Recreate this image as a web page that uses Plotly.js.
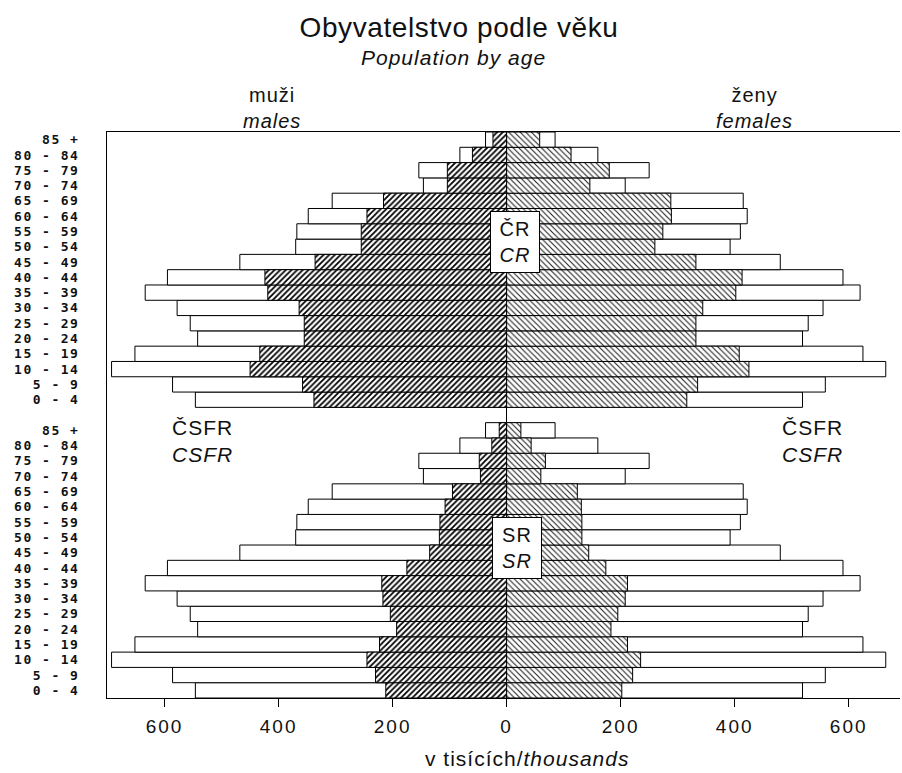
<!DOCTYPE html>
<html>
<head>
<meta charset="utf-8">
<script src="https://cdn.plot.ly/plotly-3.0.1.min.js"></script>
<style>
  html, body { margin: 0; padding: 0; background: #fff; }
  #chart { width: 902px; height: 773px; }
  .xtick text { letter-spacing: 2px; }
  .ytick text { letter-spacing: 1.5px; }
  .annotation-text { letter-spacing: 1px; }
  .gtitle { letter-spacing: 0.6px; }
</style>
</head>
<body>
<div id="chart"></div>
<script>
// Age groups, youngest first
const ages = ['0 - 4','5 - 9','10 - 14','15 - 19','20 - 24','25 - 29','30 - 34','35 - 39','40 - 44',
              '45 - 49','50 - 54','55 - 59','60 - 64','65 - 69','70 - 74','75 - 79','80 - 84','85 +'];

// Values in thousands
const csfrMales   = [546, 586, 693, 652, 542, 555, 578, 634, 595, 468, 370, 368, 348, 306, 146, 154, 82, 37];
const csfrFemales = [519, 559, 665, 625, 519, 529, 555, 620, 590, 480, 392, 410, 422, 415, 208, 250, 160, 85];
const crMales     = [338, 358, 450, 433, 355, 355, 364, 419, 424, 336, 255, 255, 245, 216, 104, 104, 60, 24];
const crFemales   = [316, 335, 425, 408, 332, 332, 344, 402, 413, 332, 260, 274, 289, 288, 146, 180, 113, 58];
const srMales     = [212, 230, 245, 223, 193, 204, 217, 219, 175, 135, 118, 117, 108, 95, 46, 48, 26, 13];
const srFemales   = [202, 221, 235, 212, 183, 195, 208, 212, 174, 144, 132, 132, 131, 124, 60, 68, 43, 25];

// x-axis ticks
const xTickVals = [-600, -400, -200, 0, 200, 400, 600];
const xTickText = ['600', '400', '200', '0', '200', '400', '600'];

// Row positions: SR pyramid at the bottom, one empty row, CR pyramid on top
const n = ages.length;
const rowsSR = ages.map((_, i) => i);
const rowsCR = ages.map((_, i) => i + n + 1);

const neg = a => a.map(v => -v);

const outline = { color: '#000', width: 1 };
const whiteBar = { color: '#fff', line: outline };
const maleBar = { color: '#fff', line: outline,
  pattern: { shape: '/', fgcolor: '#000', bgcolor: '#fff', size: 4, solidity: 0.45 } };
const femaleBar = { color: '#fff', line: outline,
  pattern: { shape: '\\', fgcolor: '#222', bgcolor: '#fff', size: 4, solidity: 0.28 } };

function bar(x, y, marker, name) {
  return { type: 'bar', orientation: 'h', x: x, y: y, width: 1, marker: marker,
           name: name, hoverinfo: 'x+y', showlegend: false };
}

const traces = [
  bar(neg(csfrMales), rowsCR, whiteBar, 'ČSFR muži'),
  bar(csfrFemales, rowsCR, whiteBar, 'ČSFR ženy'),
  bar(neg(csfrMales), rowsSR, whiteBar, 'ČSFR muži'),
  bar(csfrFemales, rowsSR, whiteBar, 'ČSFR ženy'),
  bar(neg(crMales), rowsCR, maleBar, 'ČR muži'),
  bar(crFemales, rowsCR, femaleBar, 'ČR ženy'),
  bar(neg(srMales), rowsSR, maleBar, 'SR muži'),
  bar(srFemales, rowsSR, femaleBar, 'SR ženy')
];

const baseFont = 'Liberation Sans, Arial, sans-serif';

const layout = {
  width: 902, height: 773,
  paper_bgcolor: '#fff', plot_bgcolor: '#fff',
  margin: { l: 107, r: 2, t: 132, b: 75 },
  barmode: 'overlay',
  bargap: 0,
  font: { family: baseFont, color: '#111' },
  title: {
    text: 'Obyvatelstvo podle věku',
    font: { family: baseFont, size: 28, color: '#111' },
    x: 459 / 902, xanchor: 'center', xref: 'container',
    y: 1 - 27 / 773, yanchor: 'middle', yref: 'container'
  },
  xaxis: {
    range: [-701, 690],
    tickmode: 'array', tickvals: xTickVals, ticktext: xTickText,
    ticks: 'outside', ticklen: 8, tickwidth: 1, tickcolor: '#000',
    ticklabelstandoff: 3,
    tickfont: { family: baseFont, size: 19, color: '#111' },
    showline: true, linecolor: '#000', linewidth: 1, mirror: true,
    showgrid: false, zeroline: true, zerolinecolor: '#000', zerolinewidth: 1,
    fixedrange: true
  },
  yaxis: {
    range: [-0.5, 2 * n + 0.5],
    tickmode: 'array', tickvals: rowsSR.concat(rowsCR), ticktext: ages.concat(ages),
    ticks: '', ticklabelstandoff: 24,
    tickfont: { family: 'DejaVu Sans Mono, monospace', size: 13, color: '#111', weight: 'bold' },
    showline: true, linecolor: '#000', linewidth: 1, mirror: false,
    showgrid: false, zeroline: false, fixedrange: true
  },
  annotations: [
    { text: '<i>Population by age</i>', xref: 'paper', yref: 'paper',
      x: (453 - 107) / 793, y: (698 - 58) / 566, xanchor: 'center', yanchor: 'middle',
      showarrow: false, font: { family: baseFont, size: 21, color: '#111' } },
    { text: 'muži<br><i>males</i>', xref: 'paper', yref: 'paper',
      x: (272 - 107) / 793, y: (698 - 108) / 566, xanchor: 'center', yanchor: 'middle',
      showarrow: false, font: { family: baseFont, size: 20, color: '#111' } },
    { text: 'ženy<br><i>females</i>', xref: 'paper', yref: 'paper',
      x: (754 - 107) / 793, y: (698 - 108) / 566, xanchor: 'center', yanchor: 'middle',
      showarrow: false, font: { family: baseFont, size: 20, color: '#111' } },
    { text: 'ČR<br><i>CR</i>', xref: 'x', yref: 'y', x: 15, y: 29.3,
      xanchor: 'center', yanchor: 'middle', showarrow: false,
      bgcolor: '#fff', bordercolor: '#000', borderwidth: 1, borderpad: 2,
      width: 44, height: 56,
      font: { family: baseFont, size: 20, color: '#111' } },
    { text: 'SR<br><i>SR</i>', xref: 'x', yref: 'y', x: 18, y: 9.3,
      xanchor: 'center', yanchor: 'middle', showarrow: false,
      bgcolor: '#fff', bordercolor: '#000', borderwidth: 1, borderpad: 2,
      width: 44, height: 56,
      font: { family: baseFont, size: 20, color: '#111' } },
    { text: 'ČSFR<br><i>CSFR</i>', xref: 'x', yref: 'y', x: -590, y: 16.3,
      xanchor: 'left', yanchor: 'middle', align: 'left', showarrow: false,
      font: { family: baseFont, size: 21, color: '#111' } },
    { text: 'ČSFR<br><i>CSFR</i>', xref: 'x', yref: 'y', x: 480, y: 16.3,
      xanchor: 'left', yanchor: 'middle', align: 'left', showarrow: false,
      font: { family: baseFont, size: 21, color: '#111' } },
    { text: 'v tisících/<i>thousands</i>', xref: 'x', yref: 'paper', x: 36, y: -(758 - 698) / 566,
      xanchor: 'center', yanchor: 'middle', showarrow: false,
      font: { family: baseFont, size: 21, color: '#111' } }
  ]
};

Plotly.newPlot('chart', traces, layout, { displayModeBar: false, staticPlot: true });
</script>
</body>
</html>
